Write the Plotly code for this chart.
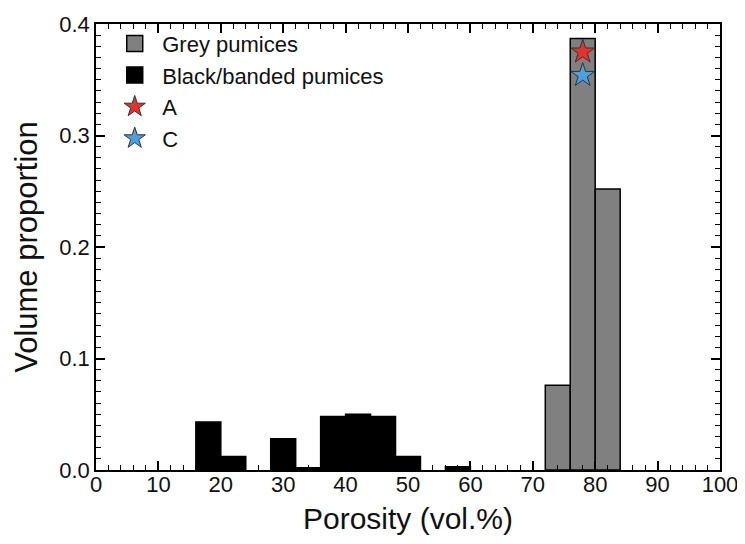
import plotly.graph_objects as go

# Data (bin centres, width 4 vol.%)
grey_centers = [74, 78, 82]
grey_values = [0.076, 0.387, 0.252]
black_centers = [18, 22, 30, 34, 38, 42, 46, 50, 58]
black_values = [0.043, 0.012, 0.028, 0.002, 0.048, 0.050, 0.048, 0.012, 0.003]
bin_width = 4
star_x = [78]
star_A = [0.375]
star_C = [0.354]

font = "Liberation Sans, Arial, Helvetica, sans-serif"
GREY = "#808080"
RED = "#e8312a"
BLUE = "#4c9fe0"

fig = go.Figure()
fig.add_trace(go.Bar(
    x=grey_centers, y=grey_values, width=[bin_width] * len(grey_centers),
    name="Grey pumices", showlegend=False,
    marker=dict(color=GREY, line=dict(color="black", width=1.5)),
))
fig.add_trace(go.Bar(
    x=black_centers, y=black_values, width=[bin_width] * len(black_centers),
    name="Black/banded pumices", showlegend=False,
    marker=dict(color="black", line=dict(color="black", width=1.5)),
))
# legend entries (square patches like the reference)
fig.add_trace(go.Scatter(
    x=[None], y=[None], mode="markers", name="Grey pumices",
    marker=dict(symbol="square", size=26, color=GREY, line=dict(color="black", width=1.5)),
))
fig.add_trace(go.Scatter(
    x=[None], y=[None], mode="markers", name="Black/banded pumices",
    marker=dict(symbol="square", size=26, color="black", line=dict(color="black", width=1.5)),
))
fig.add_trace(go.Scatter(
    x=star_x, y=star_A, mode="markers", name="A",
    marker=dict(symbol="star", size=18, color=RED, line=dict(color="#333333", width=1)),
))
fig.add_trace(go.Scatter(
    x=star_x, y=star_C, mode="markers", name="C",
    marker=dict(symbol="star", size=18, color=BLUE, line=dict(color="#333333", width=1)),
))

fig.update_layout(
    width=745, height=544,
    margin=dict(l=88, r=33, t=16, b=82),
    paper_bgcolor="white", plot_bgcolor="white",
    font=dict(family=font, size=22, color="#111111"),
    showlegend=True,
    barmode="overlay",
    legend=dict(x=0.018, y=1.003, xanchor="left", yanchor="top",
                bgcolor="rgba(0,0,0,0)", font=dict(size=22), tracegroupgap=0,
                itemwidth=45),
)
fig.update_xaxes(
    range=[0, 100], dtick=10, tick0=0, automargin=False,
    ticks="inside", ticklen=9, tickwidth=1.5, tickcolor="black",
    minor=dict(dtick=2, ticks="inside", ticklen=5, tickwidth=1, tickcolor="black"),
    showline=True, linecolor="black", linewidth=1.5, mirror="ticks",
    showgrid=False, zeroline=False, ticklabelstandoff=-6,
    title=dict(text="Porosity (vol.%)", font=dict(size=30), standoff=12),
    tickfont=dict(size=22),
)
fig.update_yaxes(
    range=[0, 0.4], dtick=0.1, tick0=0, tickformat=".1f", automargin=False,
    ticks="inside", ticklen=9, tickwidth=1.5, tickcolor="black",
    minor=dict(dtick=0.01, ticks="inside", ticklen=5, tickwidth=1, tickcolor="black"),
    showline=True, linecolor="black", linewidth=1.5, mirror="ticks",
    showgrid=False, zeroline=False,
    title=dict(text="Volume proportion", font=dict(size=31), standoff=12),
    tickfont=dict(size=22),
)

fig.write_html("out.html")
